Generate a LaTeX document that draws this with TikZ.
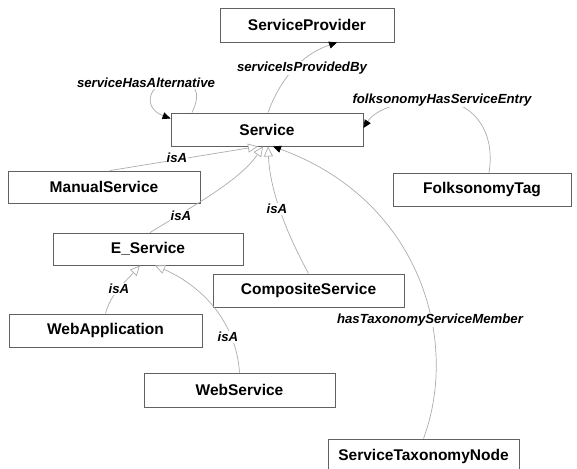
\documentclass[tikz,border=0pt]{standalone}
\usepackage{fontspec}
\setmainfont{Liberation Sans}
\usetikzlibrary{arrows.meta}
\tikzset{
  box/.style={draw=black!62, line width=0.9pt, fill=white, rectangle, inner sep=0pt,
    minimum height=33pt, font=\bfseries\fontsize{15.5}{18}\selectfont},
  lbl/.style={fill=white, inner sep=1pt, font=\bfseries\itshape\fontsize{13.2}{15}\selectfont},
  conn/.style={draw=black!32, line width=0.7pt},
  isa/.style={conn, -{Triangle[fill=white,length=10pt,width=9pt]}},
  rel/.style={conn, -{Triangle[length=8pt,width=7pt,black]}}
}
\begin{document}
\begin{tikzpicture}[x=1pt,y=-1pt]
\fill[white] (0,0) rectangle (577,468);
\useasboundingbox (0,0) rectangle (577,468);
\clip (0,0) rectangle (577,468);
% boxes
\node[box, minimum width=174pt, minimum height=34pt] (sp) at (307,25) {ServiceProvider};
\node[box, minimum width=192pt] (svc) at (267,129.5) {Service};
\node[box, minimum width=192pt, minimum height=32pt] (man) at (104,187) {ManualService};
\node[box, minimum width=190pt, minimum height=32pt] (es) at (148,249) {E\_Service};
\node[box, minimum width=191pt] (comp) at (308.5,290.5) {CompositeService};
\node[box, minimum width=178pt] (folk) at (482,189.5) {FolksonomyTag};
\node[box, minimum width=193pt] (wa) at (105.5,330.5) {WebApplication};
\node[box, minimum width=191pt, minimum height=34pt] (ws) at (239.5,390) {WebService};
\node[box, minimum width=191pt, minimum height=34pt] (stn) at (423.5,456) {ServiceTaxonomyNode};
% connectors
\draw[rel] ([xshift=1pt]svc.north) .. controls (280,80) and (300,55) .. ([xshift=30pt]sp.south);
\draw[rel] ([xshift=-75pt]svc.north) .. controls (202,92) and (196,80) .. (172,81)
  .. controls (148,83) and (142,108) .. ([yshift=11pt]svc.west);
\draw[rel] ([xshift=7pt]folk.north) .. controls (496,130) and (472,100) .. (435,100)
  .. controls (400,100) and (375,110) .. ([yshift=1.5pt]svc.east);
\draw[rel] (stn.north) .. controls (460,340) and (420,200) .. ([xshift=6pt]svc.south);
\draw[isa] ([xshift=6pt]man.north) -- ([xshift=-9pt]svc.south);
\draw[isa] ([xshift=2pt]es.north) .. controls (195,205) and (240,180) .. ([xshift=-4pt]svc.south);
\draw[isa] (comp.north) .. controls (285,230) and (270,190) .. ([xshift=1pt]svc.south);
\draw[isa] (wa.north) .. controls (110,295) and (125,282) .. ([xshift=-8pt]es.south);
\draw[isa] (ws.north) .. controls (236,320) and (200,285) .. ([xshift=7pt]es.south);
% labels
\node[lbl] (l1) at (302,68) {serviceIsProvidedBy};
\node[lbl] (l2) at (146,83) {serviceHasAlternative};
\node[lbl] (l3) at (442,100) {folksonomyHasServiceEntry};
\node[lbl] (l4) at (177,158) {isA};
\node[lbl] (l5) at (181,216) {isA};
\node[lbl] (l6) at (277,209) {isA};
\node[lbl] (l7) at (119,289) {isA};
\node[lbl] (l8) at (228,337) {isA};
\node[lbl] (l9) at (430,320) {hasTaxonomyServiceMember};
\end{tikzpicture}
\end{document}
